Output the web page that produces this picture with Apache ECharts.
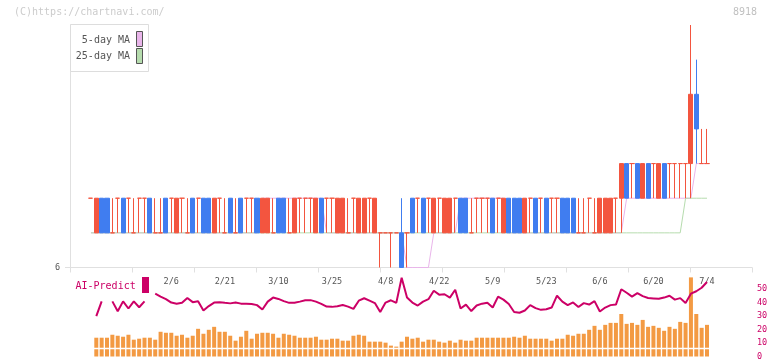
<!DOCTYPE html>
<html><head><meta charset="utf-8">
<script src="https://cdn.jsdelivr.net/npm/echarts@6/dist/echarts.min.js"></script>
<style>html,body{margin:0;padding:0;background:#fff}#c{width:772px;height:361px}</style>
</head><body><div id="c"></div>
<script>
// ---- data (trading-day slots 0..115) ----
const opens  = [8,7,8,8,7,8,8,8,7,8, 8,8,7,7,8,8,7,8,7,8, 8,8,8,7,8,7,8,7,8,8, 8,8,7,7,7,8,8,7,7,8,
                8,8,7,8,8,8,7,7,7,8, 7,7,8,7,7,7,7,7,7,7, 8,8,8,8,7,8,7,7,8,8, 8,7,8,8,8,8,8,7,8,8,
                8,7,8,8,8,8,8,8,8,8, 8,7,7,8,7,7,7,7,8,8, 9,9,9,8,9,9,8,9,9,9, 9,9,9,11,9,9];
const closes = [8,8,7,7,7,8,7,8,7,8, 8,7,7,7,7,8,8,8,7,7, 8,7,7,8,8,7,7,7,7,8, 8,7,8,8,7,7,7,7,8,8,
                8,8,8,7,8,8,8,8,7,8, 8,8,8,8,7,7,7,7,6,7, 7,8,7,8,8,8,8,8,8,7, 7,7,8,8,8,7,8,8,7,7,
                7,8,8,7,8,7,8,8,7,7, 7,7,7,8,7,8,8,8,8,9, 8,9,8,9,8,9,9,8,9,9, 9,9,11,10,9,9];
const lows   = [8,7,7,7,7,7,7,7,7,7, 7,7,7,7,7,7,7,7,7,7, 7,7,7,7,7,7,7,7,7,7, 7,7,7,7,7,7,7,7,7,7,
                7,7,7,7,7,7,7,7,7,7, 7,7,7,7,6,7,6,7,6,6, 7,7,7,7,7,7,7,7,7,7, 7,7,7,7,7,7,7,7,7,7,
                7,7,7,7,7,7,7,7,7,7, 7,7,7,7,7,7,7,7,7,7, 8,8,8,8,8,8,8,8,8,8, 8,8,8,9,9,9];
const highs  = [8,8,8,8,8,8,8,8,8,8, 8,8,8,8,8,8,8,8,8,8, 8,8,8,8,8,8,8,8,8,8, 8,8,8,8,8,8,8,8,8,8,
                8,8,8,8,8,8,8,8,8,8, 8,8,8,8,7,7,7,7,8,7, 8,8,8,8,8,8,8,8,8,8, 8,8,8,8,8,8,8,8,8,8,
                8,8,8,8,8,8,8,8,8,8, 8,8,8,8,8,8,8,8,8,9, 9,9,9,9,9,9,9,9,9,9, 9,9,13,12,10,10];
const ma5    = [7,7,7,7,7,7,7,7,7,7, 7,7,7,7,7,7,7,7,7,7, 7,7,7,7,7,7,7,7,7,7, 7,7,8,8,8,8,8,8,8,8,
                8,8,8,8,7,7,7,7,7,7, 7,7,7,7,7,7,7,7,7,6, 6,6,6,6,7,7,7,7,7,8, 8,8,8,8,8,8,8,8,7,7,
                7,7,7,7,7,7,7,7,7,7, 7,7,7,7,7,7,7,7,7,7, 8,8,8,8,8,8,8,8,8,8, 8,8,8,9,9,9];
const ma25   = [7,7,7,7,7,7,7,7,7,7, 7,7,7,7,7,7,7,7,7,7, 7,7,7,7,7,7,7,7,7,7, 7,7,7,7,7,7,7,7,7,7,
                7,7,7,7,7,7,7,7,7,7, 7,7,7,7,7,7,7,7,7,7, 7,7,7,7,7,7,7,7,7,7, 7,7,7,7,7,7,7,7,7,7,
                7,7,7,7,7,7,7,7,7,7, 7,7,7,7,7,7,7,7,7,7, 7,7,7,7,7,7,7,7,7,7, 7,8,8,8,8,8];
const volume = [null,
  19,19,19,22,21,20,22,17,18,19, 19,17,25,24,24,21,22,19,21,28, 23,27,30,25,25,21,16,20,26,18,
  23,24,24,23,19,23,22,21,19,19, 19,20,17,17,18,18,16,16,21,22, 21,15,15,15,14,11,10,15,20,18,
  19,15,17,17,15,14,16,14,17,16, 16,19,19,19,19,19,19,19,20,19, 21,18,18,18,18,16,18,18,22,21,
  23,23,27,31,27,32,34,34,43,33, 34,32,37,30,31,29,26,30,28,35, 34,80,43,29,32];
const aiPredict = [null,
  30,41,null,41,33.7,41,35.7,41,36.6,41, null,46.7,44.5,42.7,40.1,39.2,39.9,43.5,40.4,41.0,
  34.2,37.5,40.1,40.4,39.9,39.5,40.2,39.3,39.3,39.1, 38.2,34.9,40.8,43.8,42.8,41.2,39.9,39.9,40.8,41.8,
  41.9,40.8,39.1,37.1,36.9,37.4,38.3,37.1,35.4,41.5, 43.3,41.5,39.7,33.1,40.1,41.8,39.9,58.5,43.8,40.1,
  37.9,40.8,42.6,48.9,46.0,46.3,43.8,49.6,35.7,38.6, 33.8,37.9,39.3,39.9,36.4,44.5,42.3,39.0,33.1,32.5,
  34.2,38.2,36.0,34.7,35.1,36.4,45.2,40.8,38.2,40.2, 36.8,39.7,38.6,41.2,33.5,36.4,38.2,38.6,50.0,47.4,
  44.5,47.1,44.9,43.5,43.2,42.9,43.8,45.2,42.3,43.4, 39.7,46.7,48.5,51.1,55.4];
const dateLabels = ['2/6','2/21','3/10','3/25','4/8','4/22','5/9','5/23','6/6','6/20','7/4'];
const dateLabelSlots = [15,25,35,45,55,65,75,85,95,105,115];
const aiTicks = [0,10,20,30,40,50];

const slots = opens.map((_, k) => String(k));
const RED = '#f3553f', BLUE = '#407df0', PINK = '#e9b5ea', GREEN = '#b6dcae', MAG = '#cc0066';
const FONT = 'DejaVu Sans Mono';
const candleData = opens.map((o, k) => {
  const col = closes[k] >= o ? RED : BLUE;
  return { value: [o, closes[k], lows[k], highs[k]],
           itemStyle: { color: col, color0: col, borderColor: col, borderColor0: col, borderWidth: 1 } };
});

const chart = echarts.init(document.getElementById('c'), null, { renderer: 'canvas' });
const AX = '#e0e0e0';
chart.setOption({
  animation: false,
  backgroundColor: '#fff',
  grid: [
    { left: 88.26, right: 62.32, top: 25, bottom: 93.5 },
    { left: 70, right: 20, top: 25, bottom: 93.5 },
    { left: 88.26, right: 62.32, top: 275.8, bottom: 3.6 }
  ],
  xAxis: [
    { gridIndex: 0, type: 'category', data: slots, show: false },
    { gridIndex: 1, type: 'value', min: 0, max: 11, interval: 1,
      axisLine: { show: true, lineStyle: { color: AX } },
      axisTick: { show: true, length: 5, lineStyle: { color: AX } },
      axisLabel: { show: false }, splitLine: { show: false } },
    { gridIndex: 2, type: 'category', data: slots, position: 'top',
      axisLine: { show: false }, axisTick: { show: false }, splitLine: { show: false },
      axisLabel: { inside: true, margin: 1, interval: 0, color: '#555', fontSize: 8.5, fontFamily: FONT,
        formatter: (v, idx) => { const p = dateLabelSlots.indexOf(idx); return p >= 0 ? dateLabels[p] : ''; } } }
  ],
  yAxis: [
    { gridIndex: 0, type: 'value', min: 6, max: 13, show: false },
    { gridIndex: 1, type: 'value', min: 6, max: 13,
      axisLine: { show: true, lineStyle: { color: AX } },
      axisTick: { show: true, length: 5, customValues: [6], lineStyle: { color: AX } },
      axisLabel: { customValues: [6], color: '#555', fontSize: 8.5, fontFamily: FONT, margin: 10 },
      splitLine: { show: false } },
    { gridIndex: 2, type: 'value', min: 0, max: 81.6, show: false },
    { gridIndex: 2, type: 'value', position: 'right', offset: 42.32, min: 0, max: 60, interval: 10,
      axisLine: { show: false }, axisTick: { show: false }, splitLine: { show: false },
      axisLabel: { color: MAG, fontSize: 8.5, fontFamily: FONT, margin: 5,
        formatter: v => aiTicks.indexOf(v) >= 0 ? String(v) : '' } }
  ],
  series: [
    { name: '5-day MA', type: 'line', xAxisIndex: 0, yAxisIndex: 0, data: ma5, showSymbol: false,
      lineStyle: { color: PINK, width: 1 }, z: 2, silent: true },
    { name: '25-day MA', type: 'line', xAxisIndex: 0, yAxisIndex: 0, data: ma25, showSymbol: false,
      lineStyle: { color: GREEN, width: 1 }, z: 3, silent: true },
    { name: 'price', type: 'candlestick', xAxisIndex: 0, yAxisIndex: 0, data: candleData,
      barWidth: 4.6, z: 4, silent: true },
    { name: 'volume', type: 'bar', xAxisIndex: 2, yAxisIndex: 2, data: volume, barWidth: 4,
      itemStyle: { color: '#f39a43' }, z: 2, silent: true,
      markLine: { silent: true, symbol: ['none', 'none'], label: { show: false },
        lineStyle: { color: '#fff', width: 1.4, type: 'solid' }, data: [{ yAxis: 8.3 }] } },
    { name: 'AI-Predict', type: 'line', xAxisIndex: 2, yAxisIndex: 3, data: aiPredict, showSymbol: false,
      connectNulls: false, lineStyle: { color: MAG, width: 2 }, z: 5, silent: true }
  ],
  graphic: [
    { type: 'text', style: { text: '(C)https://chartnavi.com/', x: 14, y: 12, align: 'left', verticalAlign: 'middle',
      font: '10px "DejaVu Sans Mono"', fill: '#cccccc' } },
    { type: 'text', style: { text: '8918', x: 757, y: 12, align: 'right', verticalAlign: 'middle',
      font: '10px "DejaVu Sans Mono"', fill: '#c0c0c0' } },
    { type: 'rect', shape: { x: 70.5, y: 24.5, width: 78, height: 47 }, style: { fill: '#fff', stroke: '#dddddd', lineWidth: 1 }, z: 10 },
    { type: 'text', style: { text: '5-day MA', x: 130, y: 40.5, align: 'right', verticalAlign: 'middle',
      font: '10px "DejaVu Sans Mono"', fill: '#555' }, z: 11 },
    { type: 'text', style: { text: '25-day MA', x: 130, y: 56, align: 'right', verticalAlign: 'middle',
      font: '10px "DejaVu Sans Mono"', fill: '#555' }, z: 11 },
    { type: 'rect', shape: { x: 136.5, y: 31.5, width: 6, height: 15 }, style: { fill: PINK, stroke: '#555', lineWidth: 1 }, z: 11 },
    { type: 'rect', shape: { x: 136.5, y: 48.5, width: 6, height: 15 }, style: { fill: GREEN, stroke: '#555', lineWidth: 1 }, z: 11 },
    { type: 'text', style: { text: 'AI-Predict', x: 75.5, y: 286, align: 'left', verticalAlign: 'middle',
      font: '10px "DejaVu Sans Mono"', fill: MAG }, z: 11 },
    { type: 'rect', shape: { x: 142, y: 277, width: 7, height: 16 }, style: { fill: MAG }, z: 11 }
  ]
});
</script>
</body></html>
